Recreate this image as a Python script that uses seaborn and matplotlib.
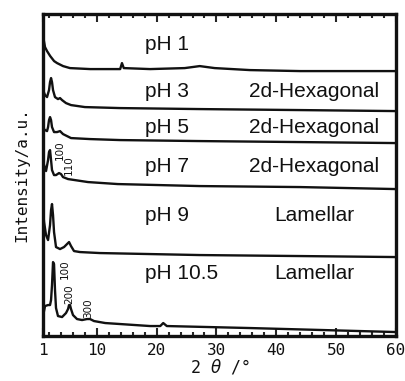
import matplotlib
matplotlib.use("Agg")
import matplotlib.pyplot as plt
import seaborn as sns
import pandas as pd
from matplotlib.ticker import MultipleLocator, FixedLocator

# 2theta (deg) / intensity (a.u., stacked)
ph1_x = [1.0, 1.33, 1.67, 2.2, 2.85, 3.35, 4.35, 5.5, 8.9, 13.0, 13.9, 14.2, 14.5, 18.9, 24.7, 27.2, 29.7, 35.6, 44.0, 60.0]
ph1_y = [300, 289, 285, 280, 275, 273, 270, 268, 267, 267, 267, 273, 268, 267, 268, 270, 268, 266, 265, 265]

ph3_x = [1.0, 1.33, 1.67, 2.0, 2.17, 2.34, 2.5, 2.67, 3.0, 3.5, 3.84, 4.18, 4.84, 5.68, 8.0, 13.9, 27.2, 44.0, 60.0]
ph3_y = [246, 241, 239, 246, 254, 258, 254, 246, 239, 237, 238, 236, 233, 231, 229, 228, 227, 226, 225]

ph5_x = [1.0, 1.33, 1.67, 1.84, 2.0, 2.17, 2.34, 2.5, 2.84, 3.34, 3.84, 4.34, 5.68, 8.86, 13.9, 27.2, 44.0, 60.0]
ph5_y = [208, 206, 205, 209, 216, 219, 216, 209, 204, 204, 205, 202, 198, 197, 196, 195, 194, 193]

ph7_x = [1.0, 1.17, 1.5, 1.84, 2.0, 2.17, 2.34, 2.5, 2.84, 3.17, 3.67, 4.01, 4.34, 5.18, 8.52, 13.5, 27.2, 44.0, 60.0]
ph7_y = [176, 171, 165, 176, 184, 186, 176, 166, 161, 161, 163, 162, 159, 157, 154, 152, 150, 149, 147]

ph9_x = [1.0, 1.17, 1.5, 1.84, 2.17, 2.34, 2.5, 2.67, 2.84, 3.17, 3.84, 4.51, 5.01, 5.35, 5.68, 6.18, 7.18, 10.5, 27.2, 44.0, 60.0]
ph9_y = [126, 114, 101, 96, 111, 126, 132, 121, 104, 89, 87, 89, 92, 94, 90, 85, 84, 83, 81, 80, 79]

ph105_x = [1.0, 1.33, 1.84, 2.17, 2.34, 2.5, 2.67, 2.84, 3.0, 3.17, 3.5, 4.18, 4.84, 5.18, 5.35, 5.51, 5.68, 6.01,
           6.68, 7.52, 8.35, 8.86, 9.52, 11.4, 18.9, 20.6, 21.1, 21.7, 35.6, 60.0]
ph105_y = [20, 30, 31, 31, 36, 51, 74, 72, 46, 28, 20, 19, 23, 27, 31, 31, 27, 21,
           17, 16, 17, 17, 15, 13, 10, 10, 13, 10, 8, 4]

ph_labels = ["pH 1", "pH 3", "pH 5", "pH 7", "pH 9", "pH 10.5"]
phase_labels = ["", "2d-Hexagonal", "2d-Hexagonal", "2d-Hexagonal", "Lamellar", "Lamellar"]
label_y = [292, 245, 209, 170, 121, 63]

xtick_vals = [1, 10, 20, 30, 40, 50, 60]

curves = [(ph1_x, ph1_y), (ph3_x, ph3_y), (ph5_x, ph5_y),
          (ph7_x, ph7_y), (ph9_x, ph9_y), (ph105_x, ph105_y)]

sns.set_theme(style="ticks")
plt.rcParams['font.family'] = ['Liberation Sans', 'DejaVu Sans']

fig = plt.figure(figsize=(4.06, 3.81), dpi=100)
ax = fig.add_axes([0.106, 0.118, 0.869, 0.845])

for (xs, ys), name in zip(curves, ph_labels):
    df = pd.DataFrame({"two_theta": xs, "intensity": ys})
    sns.lineplot(data=df, x="two_theta", y="intensity", ax=ax, color="#111111",
                 lw=1.7, estimator=None, sort=False, legend=False)

for lab, phase, yy in zip(ph_labels, phase_labels, label_y):
    ax.text(18.0, yy, lab, fontsize=15, ha="left", va="center", color="#111111")
    if phase:
        ax.text(46.4, yy, phase, fontsize=15, ha="center", va="center", color="#111111")

# Miller indices
for xx, yy, s in [(3.85, 186, "100"), (5.3, 171, "110"),
                  (4.6, 67, "100"), (5.35, 42, "200"), (8.5, 28, "300")]:
    ax.text(xx, yy, s, rotation=90, fontsize=7.5, ha="center", va="center",
            family="Liberation Sans Narrow", color="#111111")

mono = "DejaVu Sans Mono"
ax.set_xlim(1, 60)
ax.set_ylim(0, 322)
ax.xaxis.set_major_locator(FixedLocator(xtick_vals))
ax.xaxis.set_minor_locator(MultipleLocator(2))
ax.set_yticks([])
ax.tick_params(axis="x", which="both", direction="in", top=True, bottom=True, pad=5)
ax.tick_params(axis="x", which="major", length=6, width=1.5)
ax.tick_params(axis="x", which="minor", length=3, width=1.5)
for lbl in ax.get_xticklabels():
    lbl.set_family(mono)
    lbl.set_fontsize(11.5)
    lbl.set_color("#111111")

for sp in ax.spines.values():
    sp.set_linewidth(2.4)
    sp.set_color("#111111")

ax.set_xlabel("2 $\\theta$ /°", fontsize=12, family=mono, labelpad=0, color="#111111")
ax.set_ylabel("Intensity/a.u.", fontsize=11.5, family=mono, labelpad=10, color="#111111")

fig.savefig("out.png", dpi=100)
